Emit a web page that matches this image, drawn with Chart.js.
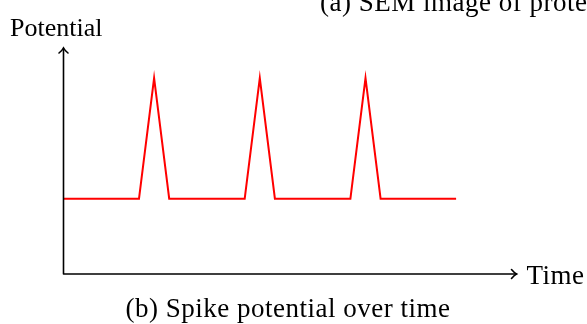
<!DOCTYPE html>
<html>
<head>
<meta charset="utf-8">
<script src="https://cdn.jsdelivr.net/npm/chart.js@4"></script>
<style>
  html, body { margin: 0; padding: 0; background: #ffffff; }
  #wrap { width: 587px; height: 324px; }
</style>
</head>
<body>
<div id="wrap"><canvas id="chart" width="587" height="324"></canvas></div>
<script>
// spike train (arbitrary units)
const timeValues = [0, 5, 6, 7, 12, 13, 14, 19, 20, 21, 26];
const potentialValues = [5, 5, 13, 5, 5, 13, 5, 5, 13, 5, 5];
const timeRange = [0, 30];
const potentialRange = [0, 15];

const yLabel = "Potential";
const xLabel = "Time";
const caption = "(b) Spike potential over time";
const topCaption = "(a) SEM image of protein";

const points = timeValues.map((t, i) => ({ x: t, y: potentialValues[i] }));

function arrowHead(ctx, x, y, dir) {
    // open tikz-like arrow tip, dir = "up" or "right"
    ctx.beginPath();
    if (dir === "up") {
        ctx.moveTo(x - 4.5, y + 5);
        ctx.quadraticCurveTo(x - 1, y + 2, x, y);
        ctx.quadraticCurveTo(x + 1, y + 2, x + 4.5, y + 5);
    } else {
        ctx.moveTo(x - 5, y - 4.5);
        ctx.quadraticCurveTo(x - 2, y - 1, x, y);
        ctx.quadraticCurveTo(x - 2, y + 1, x - 5, y + 4.5);
    }
    ctx.stroke();
}

const axesAndText = {
    id: "axesAndText",
    afterDraw(chart) {
        const ctx = chart.ctx;
        const xs = chart.scales.x;
        const ys = chart.scales.y;
        const x0 = xs.getPixelForValue(timeRange[0]);
        const x1 = xs.getPixelForValue(timeRange[1]);
        const y0 = ys.getPixelForValue(potentialRange[0]);
        const y1 = ys.getPixelForValue(potentialRange[1]);

        ctx.save();
        ctx.strokeStyle = "#000000";
        ctx.lineWidth = 1.6;
        ctx.lineCap = "round";
        ctx.beginPath();
        ctx.moveTo(x0, y0);
        ctx.lineTo(x0, y1);
        ctx.moveTo(x0, y0);
        ctx.lineTo(x1, y0);
        ctx.stroke();
        arrowHead(ctx, x0, y1, "up");
        arrowHead(ctx, x1, y0, "right");

        ctx.fillStyle = "#000000";
        ctx.textBaseline = "alphabetic";
        ctx.textAlign = "left";
        ctx.font = "26px 'Liberation Serif', serif";
        ctx.letterSpacing = "0px";
        ctx.fillText(yLabel, 10, 36);

        ctx.font = "27px 'Liberation Serif', serif";
        ctx.letterSpacing = "0.5px";
        ctx.fillText(xLabel, x1 + 10, 284);
        ctx.fillText(topCaption, 320, 11);

        ctx.textAlign = "center";
        ctx.fillText(caption, 288, 317);
        ctx.restore();
    }
};

new Chart(document.getElementById("chart"), {
    type: "scatter",
    data: {
        datasets: [{
            data: points,
            showLine: true,
            borderColor: "#ff0000",
            borderWidth: 2,
            pointRadius: 0,
            fill: false,
            tension: 0
        }]
    },
    options: {
        responsive: false,
        animation: false,
        layout: { padding: { left: 63.5, right: 70.5, top: 48, bottom: 50 } },
        scales: {
            x: { type: "linear", display: false, min: timeRange[0], max: timeRange[1] },
            y: { type: "linear", display: false, min: potentialRange[0], max: potentialRange[1] }
        },
        plugins: {
            legend: { display: false },
            tooltip: { enabled: false }
        }
    },
    plugins: [axesAndText]
});
</script>
</body>
</html>
